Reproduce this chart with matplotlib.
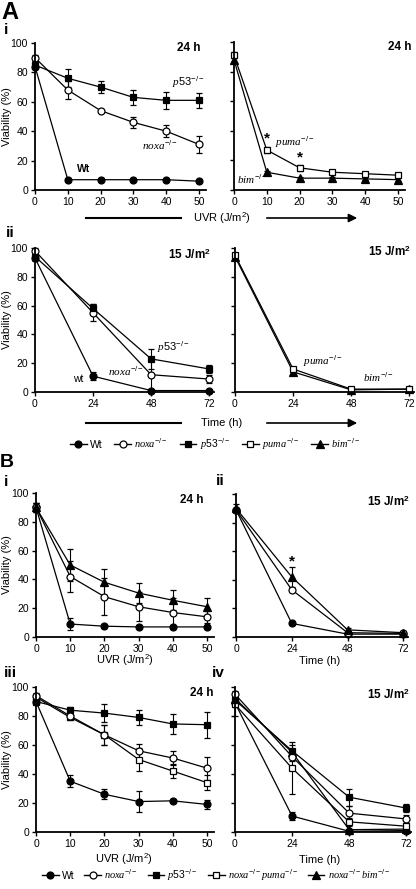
import matplotlib
matplotlib.use("Agg")
import matplotlib.pyplot as plt
from matplotlib.lines import Line2D
from matplotlib.patches import FancyArrowPatch

plt.rcParams['font.family'] = ['Liberation Sans', 'DejaVu Sans']
plt.rcParams['mathtext.fontset'] = 'custom'
plt.rcParams['mathtext.rm'] = 'Liberation Sans'
plt.rcParams['mathtext.bf'] = 'Liberation Sans:bold'
plt.rcParams['mathtext.it'] = 'Liberation Serif:italic'

W, H = 416, 889

# ---- data (viability %) ----
dose = [0, 10, 20, 30, 40, 50]
time = [0, 24, 48, 72]

# A i (24 h, UVR dose)
ai_wt = [84, 7, 7, 7, 7, 6]
ai_wt_err = [2, 0, 0, 0, 0, 0]
ai_noxa = [90, 68, 54, 46, 40, 31]
ai_noxa_err = [2, 6, 1, 4, 4, 6]
ai_p53 = [85, 76, 70, 63, 61, 61]
ai_p53_err = [3, 6, 4, 5, 6, 5]
ai_puma = [91, 27, 15, 12, 11, 10]
ai_puma_err = [2, 2, 2, 1, 1, 1]
ai_bim = [88, 12, 8, 8, 7.5, 7]
ai_bim_err = [2, 1, 1, 1, 1, 1]

# A ii (15 J/m2, time)
aii_wt = [93, 11, 1, 1]
aii_wt_err = [2, 3, 0, 0]
aii_noxa = [98, 55, 12, 9]
aii_noxa_err = [2, 6, 11, 3]
aii_p53 = [94, 58, 23, 16]
aii_p53_err = [2, 3, 7, 3]
aii_puma = [95, 16, 2, 2]
aii_bim = [94, 14, 1.5, 2]

# B i (24 h)
bi_wt = [90, 9, 7.5, 7, 7, 7]
bi_wt_err = [3, 4, 1, 1, 1, 1]
bi_noxa = [90, 42, 28, 21, 17, 14]
bi_noxa_err = [3, 11, 13, 10, 10, 4]
bi_nbim = [90, 50, 38, 30.5, 25.5, 21]
bi_nbim_err = [3, 11, 9, 7, 7, 6]

# B ii (15 J/m2)
bii_wt = [89, 9.5, 2, 2]
bii_noxa = [89, 33, 3, 2.5]
bii_nbim = [90, 42, 5, 3]
bii_nbim_err = [3, 7, 1, 1]

# B iii (24 h)
biii_wt = [90, 35, 26, 21, 21.5, 19]
biii_wt_err = [2, 4, 3.5, 7, 1, 3]
biii_noxa = [94, 80, 67, 56, 51, 44]
biii_noxa_err = [2, 2, 7, 5, 5, 8]
biii_p53 = [90, 84, 82, 79, 74.5, 74]
biii_p53_err = [2, 2, 6, 5, 7, 9]
biii_npuma = [93, 79, 67, 50, 42, 34]
biii_npuma_err = [2, 2, 7, 8, 5, 5]

# B iv (15 J/m2)
biv_wt = [89, 11, 0.5, 1]
biv_wt_err = [3, 3, 0, 0]
biv_noxa = [95, 52, 13, 9]
biv_noxa_err = [2, 3, 5, 3]
biv_p53 = [91, 56, 24, 16.5]
biv_p53_err = [2, 4, 6, 3]
biv_npuma = [88, 44, 7, 4]
biv_npuma_err = [8, 18, 3, 2]
biv_nbim = [92, 55, 1.6, 2]

# marker styles
WT = dict(marker='o', mfc='black', ms=5)
NOXA = dict(marker='o', mfc='white', ms=5)
P53 = dict(marker='s', mfc='black', ms=5)
PUMA = dict(marker='s', mfc='white', ms=5)
BIM = dict(marker='^', mfc='black', ms=6)

fig = plt.figure(figsize=(W / 100, H / 100), dpi=100)


def fx(x):
    return x / W


def fy(y):
    return 1 - y / H


def add_ax(x0, x1, ytop, ybot):
    return fig.add_axes([fx(x0), fy(ybot), (x1 - x0) / W, (ybot - ytop) / H])


def style(ax, xt, xmax, ylab=True):
    ax.set_xlim(0, xmax)
    ax.set_ylim(0, 100)
    for s in ['top', 'right']:
        ax.spines[s].set_visible(False)
    for s in ['left', 'bottom']:
        ax.spines[s].set_linewidth(1.3)
    ax.set_xticks(xt)
    ax.set_yticks(range(0, 101, 20))
    ax.tick_params(direction='out', length=3, width=1, labelsize=7.5, pad=2)
    if not ylab:
        ax.set_yticklabels([])


def ylabel(ytop, ybot):
    fig.text(fx(7), fy((ytop + ybot) / 2), 'Viability (%)', fontsize=8,
             rotation=90, ha='center', va='center')


def series(ax, x, y, st, err=None):
    ax.errorbar(x, y, yerr=err, color='black', lw=0.9, mec='black', mew=0.9,
                elinewidth=0.8, capsize=2.2, capthick=0.8, clip_on=False, **st)


def gen(name):
    return r'$\mathit{' + name + r'}^{\mathrm{-/-}}$'


# ---------- A i ----------
ax = add_ax(35, 205.6, 43, 190)
style(ax, dose, 52)
ylabel(43, 190)
series(ax, dose, ai_wt, WT, ai_wt_err)
series(ax, dose, ai_noxa, NOXA, ai_noxa_err)
series(ax, dose, ai_p53, P53, ai_p53_err)
ax.text(41.8, 73, gen('p53'), fontsize=8, va='center')
ax.text(32.6, 30, gen('noxa'), fontsize=8, va='center')
ax.text(12.8, 14, 'Wt', fontsize=7.5, fontweight='bold', va='center')

ax = add_ax(234, 404.6, 42, 190)
style(ax, dose, 52, ylab=False)
series(ax, dose, ai_bim, BIM, ai_bim_err)
series(ax, dose, ai_puma, PUMA, ai_puma_err)
ax.text(10, 35, '*', fontsize=11, fontweight='bold', ha='center', va='center')
ax.text(20, 22, '*', fontsize=11, fontweight='bold', ha='center', va='center')
ax.text(12.5, 32, gen('puma'), fontsize=8, va='center')
ax.text(1, 7, gen('bim'), fontsize=8, va='center')

# ---------- A ii ----------
ax = add_ax(35, 214, 248, 392)
style(ax, time, 74)
ylabel(248, 392)
series(ax, time, aii_wt, WT, aii_wt_err)
series(ax, time, aii_noxa, NOXA, aii_noxa_err)
series(ax, time, aii_p53, P53, aii_p53_err)
ax.text(50.4, 31, gen('p53'), fontsize=8, va='center')
ax.text(30, 14, gen('noxa'), fontsize=8, va='center')
ax.text(15.7, 9, 'wt', fontsize=7.5, va='center')

ax = add_ax(235, 414, 248, 392)
style(ax, time, 74, ylab=False)
series(ax, time, aii_bim, BIM)
series(ax, time, aii_puma, PUMA)
ax.text(28, 21, gen('puma'), fontsize=8, va='center')
ax.text(53, 10, gen('bim'), fontsize=8, va='center')

# ---------- B i / ii ----------
ax = add_ax(36, 214, 493, 637)
style(ax, dose, 52)
ylabel(493, 637)
series(ax, dose, bi_wt, WT, bi_wt_err)
series(ax, dose, bi_noxa, NOXA, bi_noxa_err)
series(ax, dose, bi_nbim, BIM, bi_nbim_err)

ax = add_ax(236, 408, 494, 637)
style(ax, time, 74, ylab=False)
series(ax, time, bii_wt, WT)
series(ax, time, bii_noxa, NOXA)
series(ax, time, bii_nbim, BIM, bii_nbim_err)
ax.text(24, 53, '*', fontsize=11, fontweight='bold', ha='center', va='center')

# ---------- B iii / iv ----------
ax = add_ax(36, 214, 687, 832)
style(ax, dose, 52)
ylabel(687, 832)
series(ax, dose, biii_wt, WT, biii_wt_err)
series(ax, dose, biii_p53, P53, biii_p53_err)
series(ax, dose, biii_npuma, PUMA, biii_npuma_err)
series(ax, dose, biii_noxa, NOXA, biii_noxa_err)

ax = add_ax(235, 411, 687, 832)
style(ax, time, 74, ylab=False)
series(ax, time, biv_nbim, BIM)
series(ax, time, biv_wt, WT, biv_wt_err)
series(ax, time, biv_npuma, PUMA, biv_npuma_err)
series(ax, time, biv_noxa, NOXA, biv_noxa_err)
series(ax, time, biv_p53, P53, biv_p53_err)

# ---------- figure texts ----------
fig.text(fx(1), fy(1), 'A', fontsize=17, fontweight='bold', va='top')
fig.text(fx(4), fy(23), 'i', fontsize=11, fontweight='bold', va='top')
fig.text(fx(6), fy(226), 'ii', fontsize=11, fontweight='bold', va='top')
fig.text(fx(0), fy(454), 'B', fontsize=14, fontweight='bold', va='top')
fig.text(fx(4), fy(475), 'i', fontsize=11, fontweight='bold', va='top')
fig.text(fx(216), fy(474), 'ii', fontsize=11, fontweight='bold', va='top')
fig.text(fx(4), fy(666), 'iii', fontsize=11, fontweight='bold', va='top')
fig.text(fx(212), fy(666), 'iv', fontsize=11, fontweight='bold', va='top')

for x, y, s in [(177, 48, '24 h'), (388, 47, '24 h'),
                (168, 255, r'15 J/m$^\mathbf{2}$'), (368, 252, r'15 J/m$^\mathbf{2}$'),
                (180, 500, '24 h'), (367, 502, r'15 J/m$^\mathbf{2}$'),
                (190, 693, '24 h'), (367, 695, r'15 J/m$^\mathbf{2}$')]:
    fig.text(fx(x), fy(y), s, fontsize=8.5, fontweight='bold', va='center')

# axis titles with bars/arrows in A
for y, s, xt in [(218, r'UVR (J/m$^\mathrm{2}$)', 222), (423, 'Time (h)', 222)]:
    fig.add_artist(Line2D([fx(86), fx(181)], [fy(y), fy(y)], color='black', lw=1.5))
    fig.text(fx(xt), fy(y), s, fontsize=8, ha='center', va='center')
    fig.add_artist(FancyArrowPatch((fx(264), fy(y)), (fx(360), fy(y)), transform=fig.transFigure,
                                   arrowstyle='-|>,head_length=5,head_width=2.5', color='black', lw=1.2))

fig.text(fx(125), fy(660), r'UVR (J/m$^\mathrm{2}$)', fontsize=8, ha='center', va='center')
fig.text(fx(320), fy(661), 'Time (h)', fontsize=8, ha='center', va='center')
fig.text(fx(124), fy(859), r'UVR (J/m$^\mathrm{2}$)', fontsize=8, ha='center', va='center')
fig.text(fx(320), fy(860), 'Time (h)', fontsize=8, ha='center', va='center')

# legends
def handle(st):
    return Line2D([], [], color='black', lw=1, mec='black', mew=0.9, **st)

fig.legend([handle(WT), handle(NOXA), handle(P53), handle(PUMA), handle(BIM)],
           ['Wt', gen('noxa'), gen('p53'), gen('puma'), gen('bim')],
           loc='center', bbox_to_anchor=(fx(215), fy(444)), ncol=5, frameon=False,
           fontsize=7.5, handlelength=1.6, handletextpad=0.3, columnspacing=1.15,
           borderpad=0, borderaxespad=0)

fig.legend([handle(WT), handle(NOXA), handle(P53), handle(PUMA), handle(BIM)],
           ['Wt', gen('noxa'), gen('p53'),
            r'$\mathit{noxa}^{\mathrm{-/-}}\mathit{puma}^{\mathrm{-/-}}$',
            r'$\mathit{noxa}^{\mathrm{-/-}}\mathit{bim}^{\mathrm{-/-}}$'],
           loc='center', bbox_to_anchor=(fx(216), fy(875)), ncol=5, frameon=False,
           fontsize=7.5, handlelength=1.6, handletextpad=0.3, columnspacing=0.95,
           borderpad=0, borderaxespad=0)

fig.savefig('out.png', dpi=100)
